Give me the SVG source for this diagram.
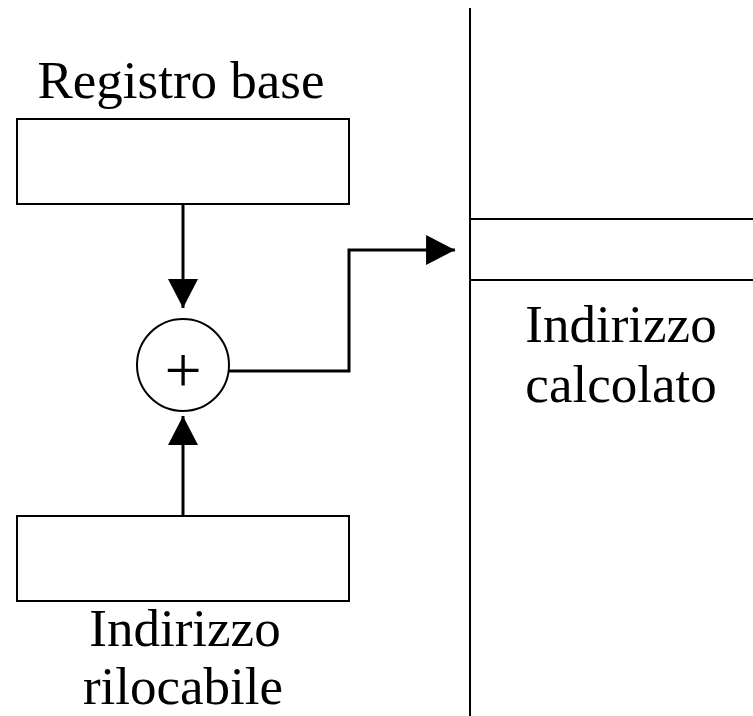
<svg xmlns="http://www.w3.org/2000/svg" width="753" height="716" viewBox="0 0 753 716">
  <style>
    .box { fill: #ffffff; stroke: #000000; stroke-width: 2; }
    .thin { fill: none; stroke: #000000; stroke-width: 2; }
    .wire { fill: none; stroke: #000000; stroke-width: 3; }
    .label { font-family: "Liberation Serif", "Times New Roman", serif; font-size: 53px; fill: #000000; text-anchor: middle; }
  </style>
  <defs>
    <marker id="head" markerUnits="userSpaceOnUse" markerWidth="30" markerHeight="30" viewBox="0 0 28 28" refX="27" refY="14" orient="auto">
      <path d="M0,0 L27,14 L0,28 Z" fill="#000000"/>
    </marker>
  </defs>
  <rect width="753" height="716" fill="#ffffff"/>

  <!-- memory column with the addressed cell -->
  <g id="memory">
    <line class="thin" x1="470" y1="8" x2="470" y2="716"/>
    <line class="thin" x1="470" y1="219" x2="753" y2="219"/>
    <line class="thin" x1="470" y1="280" x2="753" y2="280"/>
    <text class="label" x="621" y="342">Indirizzo</text>
    <text class="label" x="621" y="402">calcolato</text>
  </g>

  <g id="registro-base">
    <text class="label" x="181" y="98">Registro base</text>
    <rect class="box" x="17" y="119" width="332" height="85"/>
  </g>

  <g id="sommatore">
    <circle class="thin" cx="183" cy="365" r="46" fill="#ffffff"/>
    <text x="183" y="392" font-family="Liberation Serif, serif" font-size="66" text-anchor="middle">+</text>
  </g>

  <g id="indirizzo-rilocabile">
    <rect class="box" x="17" y="516" width="332" height="85"/>
    <text class="label" x="185" y="646">Indirizzo</text>
    <text class="label" x="183" y="704">rilocabile</text>
  </g>

  <g id="connectors">
    <line class="wire" x1="183" y1="204" x2="183" y2="308" marker-end="url(#head)"/>
    <line class="wire" x1="183" y1="516" x2="183" y2="416" marker-end="url(#head)"/>
    <polyline class="wire" points="229,371 349,371 349,250 455,250" marker-end="url(#head)"/>
  </g>
</svg>
